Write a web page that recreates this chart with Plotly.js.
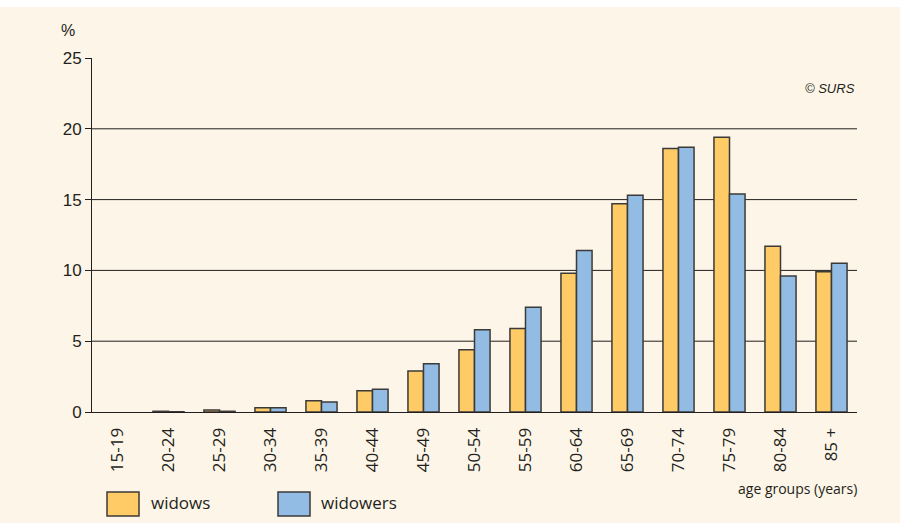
<!DOCTYPE html>
<html><head><meta charset="utf-8">
<script src="https://cdn.plot.ly/plotly-3.0.1.min.js"></script>
<style>html,body{margin:0;padding:0;background:#fff}#c{width:902px;height:523px}</style>
</head><body><div id="c"></div>
<script>
const categories = ["15-19","20-24","25-29","30-34","35-39","40-44","45-49","50-54","55-59","60-64","65-69","70-74","75-79","80-84","85 +"];
const widows   = [0, 0.05, 0.15, 0.3, 0.8, 1.5, 2.9, 4.4, 5.9, 9.8, 14.7, 18.6, 19.4, 11.7, 9.9];
const widowers = [0, 0.02, 0.05, 0.3, 0.7, 1.6, 3.4, 5.8, 7.4, 11.4, 15.3, 18.7, 15.4, 9.6, 10.5];
const yTicks = [0, 5, 10, 15, 20, 25];
const gridValues = [5, 10, 15, 20];

const widowsColor = '#fecb66', widowersColor = '#93bce5', edge = '#3b3a38';
const lw = arr => arr.map(v => v > 0 ? 1.5 : 0);
const traces = [
  {type:'bar', name:'widows', x:categories, y:widows, marker:{color:widowsColor, line:{color:edge, width:lw(widows)}}},
  {type:'bar', name:'widowers', x:categories, y:widowers, marker:{color:widowersColor, line:{color:edge, width:lw(widowers)}}}
];
const shapes = [
  {type:'rect', xref:'paper', yref:'paper', x0:-92/765, x1:(900-92)/765, y0:-111/354, y1:(412-7)/354, fillcolor:'#fdf5e7', line:{width:0}, layer:'below'}
];
gridValues.forEach(v => shapes.push({type:'line', xref:'paper', yref:'y', x0:0, x1:1, y0:v, y1:v, line:{color:'#231f20', width:1}, layer:'below'}));
shapes.push({type:'rect', xref:'paper', yref:'paper', x0:(107-92)/765, x1:(139-92)/765, y0:-(516-412)/354, y1:-(492-412)/354, fillcolor:widowsColor, line:{color:edge, width:1.5}});
shapes.push({type:'rect', xref:'paper', yref:'paper', x0:(278-92)/765, x1:(310-92)/765, y0:-(516-412)/354, y1:-(492-412)/354, fillcolor:widowersColor, line:{color:edge, width:1.5}});

const txt = {family:'Open Sans, Noto Sans, sans-serif', color:'#231f20'};
const annotations = [
  {text:'widows', xref:'paper', yref:'paper', x:(149-92)/765, y:-(503-412)/354, xanchor:'left', yanchor:'middle', showarrow:false, font:{...txt, size:17}},
  {text:'widowers', xref:'paper', yref:'paper', x:(319-92)/765, y:-(503-412)/354, xanchor:'left', yanchor:'middle', showarrow:false, font:{...txt, size:17}},
  {text:'age groups (years)', xref:'paper', yref:'paper', x:1.002, y:-(488-412)/354, xanchor:'right', yanchor:'middle', showarrow:false, font:{...txt, size:14}},
  {text:'%', xref:'paper', yref:'paper', x:(68-92)/765, y:(412-30)/354, xanchor:'center', yanchor:'middle', showarrow:false, font:{family:'Liberation Sans, Arial, sans-serif', size:16, color:'#231f20'}},
  {text:'<i>© SURS</i>', xref:'paper', yref:'paper', x:1, y:(412-88)/354, xanchor:'right', yanchor:'middle', showarrow:false, font:{family:'Liberation Sans, Arial, sans-serif', size:13, color:'#231f20'}}
];

Plotly.newPlot('c', traces, {
  width:902, height:523,
  margin:{l:92, r:45, t:58, b:111},
  paper_bgcolor:'#ffffff', plot_bgcolor:'rgba(0,0,0,0)',
  barmode:'group', bargap:0.39, bargroupgap:0,
  showlegend:false,
  xaxis:{type:'category', showline:true, linecolor:'#231f20', linewidth:1, ticks:'', tickangle:-90,
         tickfont:{...txt, size:17}, showgrid:false, zeroline:false, ticklabelstandoff:8},
  yaxis:{range:[0,25], tickvals:yTicks, showline:true, linecolor:'#231f20', linewidth:1, ticks:'outside', ticklen:6,
         tickcolor:'#231f20', showgrid:false, zeroline:false,
         tickfont:{family:'Liberation Sans, Arial, sans-serif', size:17, color:'#231f20'}},
  shapes:shapes, annotations:annotations
}, {staticPlot:true});
</script></body></html>
